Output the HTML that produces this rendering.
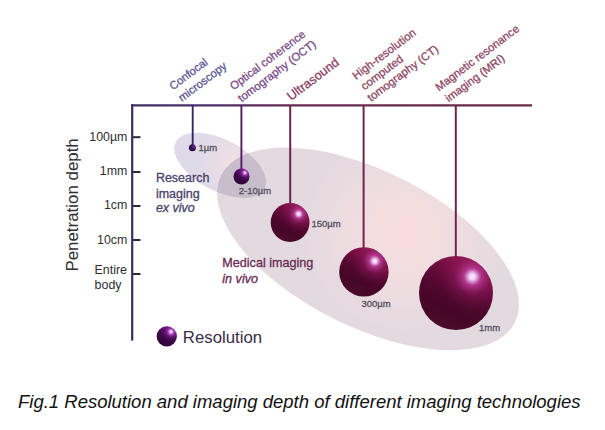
<!DOCTYPE html>
<html><head><meta charset="utf-8">
<style>
html,body{margin:0;padding:0;background:#fff;}
body{width:605px;height:430px;overflow:hidden;position:relative;font-family:"Liberation Sans",sans-serif;}
svg{position:absolute;left:0;top:0;}
svg text{font-family:"Liberation Sans",sans-serif;}
</style></head><body>
<svg width="605" height="430" viewBox="0 0 605 430">
<defs>
  <linearGradient id="axisG" x1="131" y1="0" x2="532" y2="0" gradientUnits="userSpaceOnUse">
    <stop offset="0" stop-color="#3d2d5e"/>
    <stop offset="0.17" stop-color="#48306c"/>
    <stop offset="0.4" stop-color="#682852"/>
    <stop offset="1" stop-color="#6a2a48"/>
  </linearGradient>
  <linearGradient id="sphMb" x1="0.72" y1="0.02" x2="0.3" y2="0.9">
    <stop offset="0" stop-color="#901a56"/>
    <stop offset="0.2" stop-color="#7c1044"/>
    <stop offset="0.4" stop-color="#640a3a"/>
    <stop offset="0.58" stop-color="#50082e"/>
    <stop offset="0.8" stop-color="#460626"/>
    <stop offset="1" stop-color="#4a0a2a"/>
  </linearGradient>
  <radialGradient id="sphMh" cx="0.72" cy="0.28" r="0.45">
    <stop offset="0" stop-color="#fcf2ff" stop-opacity="1"/>
    <stop offset="0.1" stop-color="#eccaf2" stop-opacity="1"/>
    <stop offset="0.26" stop-color="#c040a0" stop-opacity="0.8"/>
    <stop offset="0.55" stop-color="#a02270" stop-opacity="0.3"/>
    <stop offset="1" stop-color="#8a1a5e" stop-opacity="0"/>
  </radialGradient>
  <linearGradient id="sphPb" x1="0.72" y1="0.02" x2="0.3" y2="0.9">
    <stop offset="0" stop-color="#6c1482"/>
    <stop offset="0.35" stop-color="#500a60"/>
    <stop offset="0.6" stop-color="#3c0648"/>
    <stop offset="1" stop-color="#30043a"/>
  </linearGradient>
  <radialGradient id="sphPh" cx="0.71" cy="0.27" r="0.5">
    <stop offset="0" stop-color="#fcd8fc" stop-opacity="1"/>
    <stop offset="0.14" stop-color="#f0a8f0" stop-opacity="1"/>
    <stop offset="0.32" stop-color="#b048c0" stop-opacity="0.7"/>
    <stop offset="0.6" stop-color="#8a2a9a" stop-opacity="0.25"/>
    <stop offset="1" stop-color="#7a1a8a" stop-opacity="0"/>
  </radialGradient>
  <radialGradient id="sphD" cx="0.7" cy="0.3" r="0.9">
    <stop offset="0" stop-color="#6a3a90"/>
    <stop offset="0.4" stop-color="#3a0a5a"/>
    <stop offset="1" stop-color="#22063a"/>
  </radialGradient>
  <radialGradient id="ellS" cx="233" cy="157" r="40" gradientUnits="userSpaceOnUse">
    <stop offset="0" stop-color="#f2e0e4"/>
    <stop offset="1" stop-color="#dedae7"/>
  </radialGradient>
  <radialGradient id="ellL" cx="393" cy="218" r="100" gradientUnits="userSpaceOnUse">
    <stop offset="0" stop-color="#fadcdc"/>
    <stop offset="0.45" stop-color="#f0dde0"/>
    <stop offset="1" stop-color="#e3dae0"/>
  </radialGradient>
  <radialGradient id="ellO" cx="230" cy="160" r="38" gradientUnits="userSpaceOnUse">
    <stop offset="0" stop-color="#dccbd2"/>
    <stop offset="1" stop-color="#c8bdca"/>
  </radialGradient>
  <filter id="soft" x="-5%" y="-5%" width="110%" height="110%"><feGaussianBlur stdDeviation="0.7"/></filter>
</defs>

<!-- ellipses -->
<clipPath id="clS"><ellipse cx="220.2" cy="165.3" rx="50.2" ry="25.7" transform="rotate(27.8 220.2 165.3)"/></clipPath>
<g filter="url(#soft)">
<ellipse cx="368" cy="248.9" rx="164.3" ry="77.9" transform="rotate(26.6 368 248.9)" fill="url(#ellL)"/>
<ellipse cx="220.2" cy="165.3" rx="50.2" ry="25.7" transform="rotate(27.8 220.2 165.3)" fill="url(#ellS)"/>
<g clip-path="url(#clS)"><ellipse cx="368" cy="248.9" rx="164.3" ry="77.9" transform="rotate(26.6 368 248.9)" fill="url(#ellO)"/></g>
</g>

<!-- axes -->
<line x1="132.2" y1="104.2" x2="132.2" y2="340.6" stroke="#3d2d5e" stroke-width="2.2"/>
<line x1="131" y1="105.3" x2="532" y2="105.3" stroke="url(#axisG)" stroke-width="2.2"/>
<!-- ticks -->
<g stroke="#2a2a3a" stroke-width="2">
<line x1="133" y1="137.2" x2="140.5" y2="137.2"/>
<line x1="133" y1="172" x2="140.5" y2="172"/>
<line x1="133" y1="206" x2="140.5" y2="206"/>
<line x1="133" y1="240" x2="140.5" y2="240"/>
<line x1="133" y1="274" x2="140.5" y2="274"/>
</g>

<!-- drop lines -->
<line x1="192.7" y1="105" x2="192.7" y2="147" stroke="#3a2466" stroke-width="1.9"/>
<line x1="241.4" y1="105" x2="241.4" y2="172" stroke="#521e62" stroke-width="1.9"/>
<line x1="290.2" y1="105" x2="290.2" y2="205" stroke="#6c244e" stroke-width="2"/>
<line x1="363.6" y1="105" x2="363.6" y2="250" stroke="#6e264e" stroke-width="2"/>
<line x1="455.8" y1="105" x2="455.8" y2="258" stroke="#6e264e" stroke-width="2"/>

<!-- spheres -->
<circle cx="192.4" cy="147.8" r="3.5" fill="url(#sphD)"/>
<circle cx="241.5" cy="176.5" r="8" fill="url(#sphPb)"/><circle cx="241.5" cy="176.5" r="8" fill="url(#sphPh)"/>
<circle cx="290.1" cy="222.5" r="19.4" fill="url(#sphMb)"/><circle cx="290.1" cy="222.5" r="19.4" fill="url(#sphMh)"/>
<circle cx="363.9" cy="271.9" r="24.7" fill="url(#sphMb)"/><circle cx="363.9" cy="271.9" r="24.7" fill="url(#sphMh)"/>
<circle cx="456" cy="293" r="37" fill="url(#sphMb)"/><circle cx="456" cy="293" r="37" fill="url(#sphMh)"/>
<circle cx="166.75" cy="336.4" r="10.1" fill="url(#sphPb)"/><circle cx="166.75" cy="336.4" r="10.1" fill="url(#sphPh)"/>

<!-- sphere labels -->
<g font-size="9.5" fill="#555060" stroke="#555060" stroke-width="0.3">
<text x="198.5" y="150.7">1µm</text>
<text x="238.7" y="193.6">2-10µm</text>
<text x="311.5" y="226.8">150µm</text>
<text x="361.4" y="306.5">300µm</text>
<text x="479" y="331">1mm</text>
</g>

<!-- y axis labels -->
<g font-size="12.4" fill="#2e2e34" text-anchor="end">
<text x="127.4" y="140.8">100µm</text>
<text x="127.4" y="174.8">1mm</text>
<text x="127.4" y="209.2">1cm</text>
<text x="127.4" y="243.7">10cm</text>
</g>
<g font-size="12.4" fill="#2e2e34">
<text x="94.6" y="274.3">Entire</text>
<text x="94.6" y="288.6">body</text>
</g>
<text transform="translate(77.6,271.6) rotate(-90)" font-size="16.9" fill="#2e2e34">Penetration depth</text>

<!-- region labels -->
<g font-size="12.5" fill="#4a3f6e" stroke="#4a3f6e" stroke-width="0.3">
<text x="155.9" y="181.6">Research</text>
<text x="155.9" y="197.6">imaging</text>
<text x="155.9" y="212" font-style="italic">ex vivo</text>
</g>
<g font-size="12.6" fill="#6a2a52" stroke="#6a2a52" stroke-width="0.3">
<text x="222.3" y="266.6">Medical imaging</text>
<text x="222.3" y="282.5" font-style="italic">in vivo</text>
</g>

<!-- legend -->
<text x="182.8" y="343" font-size="16.8" fill="#3a2c46">Resolution</text>

<!-- top labels -->
<g font-size="11.3">
<g fill="#5c5492" stroke="#5c5492" stroke-width="0.3">
<text transform="translate(173,90.5) rotate(-37)">Confocal</text>
<text transform="translate(182,102) rotate(-37)">microscopy</text>
</g>
<g fill="#784886" stroke="#784886" stroke-width="0.3">
<text transform="translate(233.5,90.5) rotate(-37)">Optical coherence</text>
<text transform="translate(241.6,102.5) rotate(-37)">tomography (OCT)</text>
</g>
<text transform="translate(291,101) rotate(-37)" font-size="12.7" fill="#883e66" stroke="#883e66" stroke-width="0.3">Ultrasound</text>
<g fill="#8c4664" stroke="#8c4664" stroke-width="0.3">
<text transform="translate(356,80) rotate(-37)">High-resolution</text>
<text transform="translate(364.5,90.4) rotate(-37)">computed</text>
<text transform="translate(371,102) rotate(-37)">tomography (CT)</text>
<text transform="translate(438.9,91.5) rotate(-37)">Magnetic resonance</text>
<text transform="translate(448.8,102.5) rotate(-37)">imaging (MRI)</text>
</g>
</g>

<!-- caption -->
<text x="18" y="407.5" font-size="18.5" font-style="italic" fill="#111">Fig.1 Resolution and imaging depth of different imaging technologies</text>
</svg>
</body></html>
